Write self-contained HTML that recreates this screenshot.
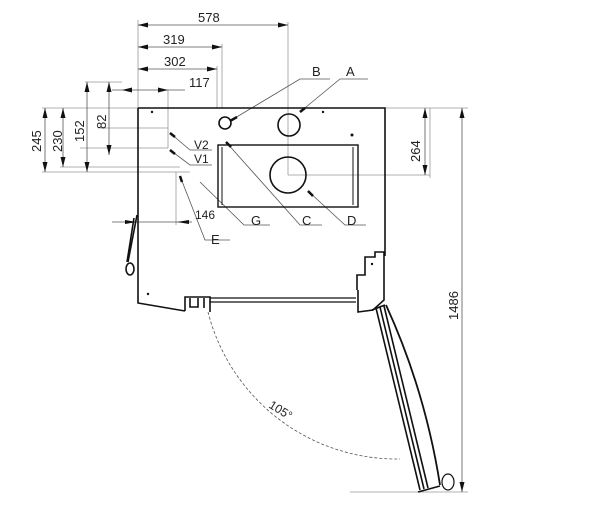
<!DOCTYPE html>
<html><head><style>body{margin:0;background:#fff}svg{display:block}text{font-family:"Liberation Sans",sans-serif;fill:#222}</style></head>
<body>
<svg width="600" height="508" viewBox="0 0 600 508" xmlns="http://www.w3.org/2000/svg">
<g stroke="#999" stroke-width="0.8" fill="none">
<line x1="138" y1="20" x2="138" y2="108"/><line x1="288" y1="22" x2="288" y2="175"/>
<line x1="222" y1="44" x2="222" y2="108"/><line x1="217" y1="66" x2="217" y2="108"/>
<line x1="168" y1="90" x2="168" y2="148"/>
<line x1="42" y1="108" x2="138" y2="108"/><line x1="385" y1="108" x2="468" y2="108"/>
<line x1="288" y1="175" x2="430" y2="175"/>
<line x1="85" y1="82" x2="122" y2="82"/>
<line x1="100" y1="128" x2="168" y2="128"/><line x1="80" y1="148" x2="168" y2="148"/>
<line x1="60" y1="167" x2="180" y2="167"/><line x1="42" y1="172" x2="190" y2="172"/>
<line x1="176" y1="172" x2="176" y2="225"/><line x1="350" y1="492" x2="468" y2="492"/>
<line x1="430" y1="108" x2="430" y2="178"/>
</g>
<g stroke="#555" stroke-width="0.8" fill="none">
<line x1="138" y1="25" x2="288" y2="25"/>
<line x1="138" y1="47" x2="222" y2="47"/>
<line x1="138" y1="69" x2="217" y2="69"/>
<line x1="112" y1="90" x2="185" y2="90"/>
<line x1="425" y1="108" x2="425" y2="175"/>
<line x1="462" y1="108" x2="462" y2="492"/>
<line x1="45" y1="108" x2="45" y2="172"/>
<line x1="63" y1="108" x2="63" y2="167"/>
<line x1="87" y1="82" x2="87" y2="172"/>
<line x1="109" y1="82" x2="109" y2="155"/>
<line x1="112" y1="222" x2="192" y2="222"/>
<path d="M230,121L300,79H330M300,112L340,79H368M226,142L300,225H322M308,191L345,225H366M200,182L244,225H270M180,176L205,240H230M170,133L190,150H212M170,150L190,165H212"/>
<path d="M208,312 A195,195 0 0 0 400,459" stroke-dasharray="3,2"/>
</g>
<g fill="#111">
<!-- horizontal arrows -->
<path d="M138,25l10,-2.5v5z M288,25l-10,-2.5v5z M138,47l10,-2.5v5z M222,47l-10,-2.5v5z M138,69l10,-2.5v5z M217,69l-10,-2.5v5z M122,90l10,-2.5v5z M168,90l-10,-2.5v5z"/>
<path d="M137,222l-12,-2v4z M177,222l12,-2v4z"/>
<!-- vertical arrows -->
<path d="M425,108l-2.5,10h5z M425,175l-2.5,-10h5z M462,108l-2.5,10h5z M462,492l-2.5,-10h5z M45,108l-2.5,10h5z M45,172l-2.5,-10h5z M63,108l-2.5,10h5z M63,167l-2.5,-10h5z M87,82l-2.5,10h5z M87,172l-2.5,-10h5z M109,82l-2.5,10h5z M109,155l-2.5,-10h5z"/>
</g>
<g stroke="#111" stroke-width="2.5" fill="none">
<path d="M230,121l7,-4M300,112l5,-4M226,142l5,5M308,191l5,5M180,176l2,6M170,133l5,4M170,150l5,4"/>
</g>
<g fill="none" stroke="#111" stroke-width="1.6">
<path d="M138,108H385V256"/>
<path d="M138,108V303L185,311"/>
<path d="M185,311V297H210V312M190,298V307H198V298M204,298V308"/>
<path d="M210,298H356M210,302H356" stroke-width="1.2"/>
<path d="M384,256V300M357,290V275H365V257H375V252H384V300L373,310L358,312V290"/>
<rect x="218" y="145" width="140" height="62" stroke-width="1.4"/>
<path d="M222,147V205M353,147V205" stroke-width="1"/>
<circle cx="225" cy="123" r="6"/>
<circle cx="289" cy="125" r="11"/>
<circle cx="288" cy="175" r="18"/>
<path d="M137,215L128,262M134,218L127,262"/>
<ellipse cx="130" cy="269" rx="4" ry="6"/>
<path d="M376,308L420,490M380,307L424,489M384,306L428,488" stroke-width="1.6"/>
<path d="M386,305Q425,390 440,485" stroke-width="1.8"/>
<path d="M372,310L385,305M418,492L440,486"/>
<ellipse cx="448" cy="482" rx="6" ry="8" stroke-width="1.2"/>
</g>
<g fill="#111"><circle cx="152" cy="112" r="1.2"/><circle cx="323" cy="112" r="1.2"/><circle cx="352" cy="135" r="1.5"/><circle cx="148" cy="294" r="1.2"/><circle cx="372" cy="264" r="1.2"/></g>
<g font-size="13">
<text x="198" y="22">578</text><text x="163" y="44">319</text><text x="164" y="66">302</text><text x="189" y="87">117</text>
<text x="312" y="76">B</text><text x="346" y="76">A</text>
<text x="194" y="149" font-size="12">V2</text><text x="194" y="163" font-size="12">V1</text>
<text x="195" y="219" font-size="12">146</text>
<text x="251" y="225">G</text><text x="302" y="225">C</text><text x="347" y="225">D</text><text x="211" y="244">E</text>
<text transform="translate(41,152) rotate(-90)">245</text>
<text transform="translate(62,152) rotate(-90)">230</text>
<text transform="translate(84,142) rotate(-90)">152</text>
<text transform="translate(106,129) rotate(-90)">82</text>
<text transform="translate(420,162) rotate(-90)">264</text>
<text transform="translate(458,320) rotate(-90)">1486</text>
<text transform="translate(268,407) rotate(32)" font-size="12">105°</text>
</g>
</svg>
</body></html>
